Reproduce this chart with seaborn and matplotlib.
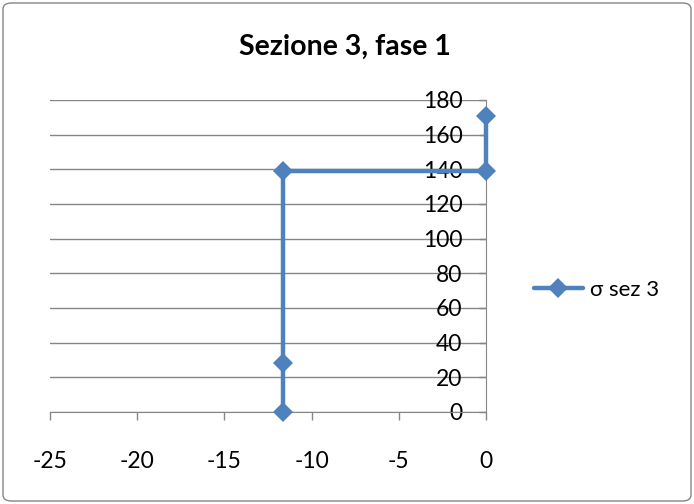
import pandas as pd
import seaborn as sns
import matplotlib.pyplot as plt
from matplotlib.patches import FancyBboxPatch

# values
x_vals = [-11.65, -11.65, -11.65, 0, 0]
y_vals = [0, 28, 139, 139, 171]
series_name = 'σ sez 3'
x_ticks = [-25, -20, -15, -10, -5, 0]
y_ticks = [0, 20, 40, 60, 80, 100, 120, 140, 160, 180]
title = 'Sezione 3, fase 1'

df = pd.DataFrame({'x': x_vals, 'y': y_vals})

sns.set_style('white')
plt.rcParams['font.family'] = ['Lato', 'DejaVu Sans']
plt.rcParams['axes.unicode_minus'] = False
plt.rcParams['text.color'] = 'black'
plt.rcParams['xtick.labelcolor'] = 'black'
plt.rcParams['ytick.labelcolor'] = 'black'

blue = '#4F81BD'
grey = '#868686'

fig = plt.figure(figsize=(6.94, 5.04), dpi=100)
ax = fig.add_axes([50 / 694, 1 - 412 / 504, 436 / 694, 312 / 504])

sns.lineplot(data=df, x='x', y='y', sort=False, estimator=None, ax=ax,
             color=blue, lw=3.2, marker='D', markersize=10,
             markeredgewidth=0, label=series_name, zorder=5, clip_on=False)

ax.set_xlim(-25, 0)
ax.set_ylim(0, 180)
ax.set_xticks(x_ticks)
ax.set_yticks(y_ticks)
ax.set_xlabel('')
ax.set_ylabel('')

ax.yaxis.grid(True, color=grey, lw=1)
ax.xaxis.grid(False)
ax.set_axisbelow(True)

for s in ['top', 'right']:
    ax.spines[s].set_visible(False)
ax.spines['left'].set_position(('data', 0))
ax.spines['left'].set_color(grey)
ax.spines['bottom'].set_color(grey)
ax.spines['left'].set_zorder(1)

ax.tick_params(axis='x', direction='out', length=6, width=1, color=grey,
               pad=22, labelsize=16.5, bottom=True)
ax.tick_params(axis='y', direction='out', length=5, width=1, color=grey,
               pad=12, labelsize=16.5, left=True)

fig.text(0.497, 1 - 47 / 504, title, ha='center', va='center',
         fontsize=20.5, fontweight='bold')

leg = ax.legend(loc='center left', bbox_to_anchor=(514 / 694, 1 - 290 / 504),
                bbox_transform=fig.transFigure, frameon=False, fontsize=16,
                handlelength=2.2, handletextpad=0.3)

fig.patches.append(FancyBboxPatch((3 / 694, 3 / 504), 688 / 694, 498 / 504,
                                  boxstyle='round,pad=0,rounding_size=0.012',
                                  transform=fig.transFigure, fill=False,
                                  edgecolor=grey, lw=1))

fig.savefig('out.png', dpi=100)
